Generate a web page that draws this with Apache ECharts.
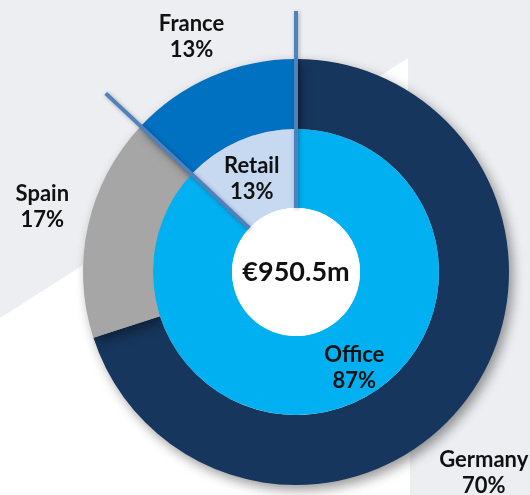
<!DOCTYPE html>
<html>
<head>
<meta charset="utf-8">
<script src="https://cdn.jsdelivr.net/npm/echarts@6/dist/echarts.min.js"></script>
<style>
  html, body { margin: 0; padding: 0; background: #eceef1; }
  #main { width: 530px; height: 495px; }
</style>
</head>
<body>
<div id="main"></div>
<script>
  // data
  const countries = ['Germany', 'Spain', 'France'];
  const countryShares = [70, 17, 13];
  const sectors = ['Office', 'Retail'];
  const sectorShares = [87, 13];
  const totalLabel = '€950.5m';

  const countryColors = ['#17365d', '#a6a6a6', '#0070c0'];
  const sectorColors = ['#00b0f0', '#c6d9f1'];
  // label nudges so the text sits where the original had it
  const countryOffsets = [[-25, 46], [3, -8], [0, 6]];
  const sectorOffsets = [[16, -2], [-2, 5]];

  const cx = 296, cy = 272;
  const rHole = 64, rInner = 143, rOuter = 213, rLine = 261;
  const font = 'Lato, "Open Sans", sans-serif';

  const myChart = echarts.init(document.getElementById('main'), null, { renderer: 'canvas' });

  // separator lines, at the sector boundaries (start and after Office)
  const total = sectorShares.reduce((a, b) => a + b, 0);
  const bounds = [0, sectorShares[0] / total];
  const lines = bounds.map(f => {
    const a = f * Math.PI * 2;
    return {
      type: 'line',
      z: 100,
      shape: {
        x1: cx + rHole * Math.sin(a), y1: cy - rHole * Math.cos(a),
        x2: cx + rLine * Math.sin(a), y2: cy - rLine * Math.cos(a)
      },
      style: {
        stroke: '#4f81bd', lineWidth: 4,
        shadowBlur: 4, shadowColor: 'rgba(0,0,0,0.3)', shadowOffsetX: 1, shadowOffsetY: 1
      }
    };
  });

  const labelStyle = {
    fontFamily: font, fontWeight: 'bold', fontSize: 22, lineHeight: 26, color: '#111'
  };

  myChart.setOption({
    backgroundColor: '#eceef1',
    animation: false,
    graphic: [
      // white background shape in the lower left
      {
        type: 'polygon', z: -10, silent: true,
        shape: { points: [[0, 318], [408, 58], [410, 495], [0, 495]] },
        style: { fill: '#ffffff' }
      }
    ].concat(lines),
    series: [
      {
        // outer ring: countries
        type: 'pie',
        center: [cx, cy],
        radius: [rInner, rOuter],
        startAngle: 90,
        silent: true,
        label: { show: false },
        labelLine: { show: false },
        itemStyle: { shadowBlur: 12, shadowOffsetX: 4, shadowOffsetY: 5, shadowColor: 'rgba(0,0,0,0.4)' },
        data: countries.map((n, i) => ({ name: n, value: countryShares[i], itemStyle: { color: countryColors[i] } }))
      },
      {
        // labels for the outer ring
        type: 'pie',
        center: [cx, cy],
        radius: [245, 275],
        startAngle: 90,
        silent: true,
        itemStyle: { color: 'rgba(0,0,0,0)' },
        labelLine: { show: false },
        label: Object.assign({ show: true, position: 'inside', formatter: '{b}\n{c}%' }, labelStyle),
        data: countries.map((n, i) => ({ name: n, value: countryShares[i], label: { offset: countryOffsets[i] } }))
      },
      {
        // inner ring: sectors
        type: 'pie',
        center: [cx, cy],
        radius: [rHole, rInner],
        startAngle: 90,
        silent: true,
        labelLine: { show: false },
        label: Object.assign({ show: true, position: 'inside', formatter: '{b}\n{c}%' }, labelStyle),
        data: sectors.map((n, i) => ({
          name: n, value: sectorShares[i],
          itemStyle: { color: sectorColors[i] },
          label: { offset: sectorOffsets[i] }
        }))
      },
      {
        // white hole with the total
        type: 'pie',
        center: [cx, cy],
        radius: [0, rHole],
        silent: true,
        labelLine: { show: false },
        itemStyle: { color: '#ffffff' },
        label: {
          show: true, position: 'center', formatter: totalLabel,
          fontFamily: font, fontWeight: 'bold', fontSize: 27, color: '#111'
        },
        data: [{ name: 'total', value: 1 }]
      }
    ]
  });

  window.addEventListener('resize', () => {
    myChart.resize();
  });
</script>
</body>
</html>
